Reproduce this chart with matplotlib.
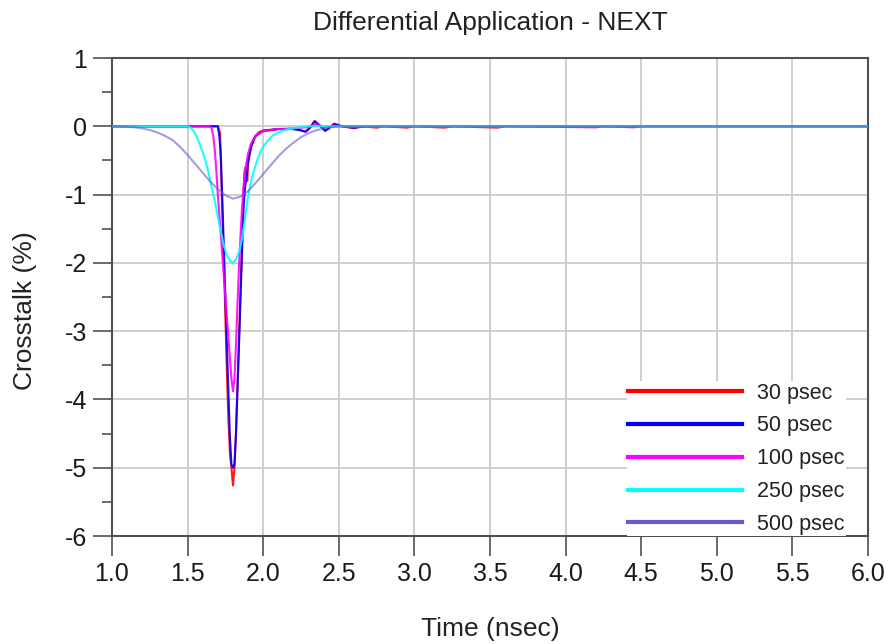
import matplotlib
matplotlib.use("Agg")
import matplotlib.pyplot as plt
from matplotlib.ticker import MultipleLocator, FormatStrFormatter

plt.rcParams['font.family'] = ['Liberation Sans', 'DejaVu Sans']

title = "Differential Application - NEXT"
xlabel = "Time (nsec)"
ylabel = "Crosstalk (%)"
labels = ["30 psec", "50 psec", "100 psec", "250 psec", "500 psec"]
colors = ["#ff0000", "#0000ff", "#ff00ff", "#00ffff", "#6a5acd"]

# 30 psec
t_30 = [1.0, 1.70, 1.715, 1.72, 1.73, 1.74, 1.75, 1.76, 1.77, 1.78, 1.79, 1.80, 1.81, 1.82,
        1.83, 1.84, 1.85, 1.86, 1.87, 1.875, 1.88, 1.885, 1.89, 1.895, 1.90, 1.92, 1.94,
        1.97, 2.0, 2.1, 2.2, 2.25, 2.28, 2.31, 2.34, 2.37, 2.41, 2.44, 2.47, 2.52, 2.6,
        2.65, 2.75, 2.8, 2.95, 3.0, 3.2, 3.25, 3.55, 3.6, 4.2, 4.25, 4.45, 4.5, 6.0]
v_30 = [0.0, 0.0, -0.1, -0.5, -1.3, -2.0, -2.8, -3.6, -4.3, -4.8, -5.0, -5.26, -5.0, -4.5,
        -3.8, -3.1, -2.4, -1.7, -1.0, -0.7, -0.62, -0.6, -0.75, -0.8, -0.55, -0.3, -0.17,
        -0.09, -0.06, -0.04, -0.04, -0.06, -0.08, -0.02, 0.08, 0.02, -0.07, -0.02, 0.04, 0.0, -0.03,
        0.0, -0.02, 0.0, -0.02, 0.0, -0.02, 0.0, -0.02, 0.0, -0.015, 0.0, -0.015, 0.0, 0.0]

# 50 psec
t_50 = [1.0, 1.70, 1.71, 1.72, 1.73, 1.74, 1.75, 1.76, 1.77, 1.78, 1.79, 1.80, 1.81, 1.82,
        1.83, 1.84, 1.85, 1.86, 1.87, 1.88, 1.89, 1.90, 1.92, 1.95, 2.0, 2.1, 2.2, 2.25,
        2.28, 2.31, 2.34, 2.37, 2.41, 2.44, 2.47, 2.52, 2.6, 2.7, 6.0]
v_50 = [0.0, 0.0, -0.15, -0.45, -1.1, -1.8, -2.5, -3.2, -3.9, -4.55, -4.95, -5.0, -4.95, -4.5,
        -3.85, -3.2, -2.5, -1.85, -1.2, -0.9, -0.74, -0.5, -0.3, -0.14, -0.07, -0.04, -0.04, -0.06,
        -0.08, -0.02, 0.07, 0.02, -0.06, -0.02, 0.03, 0.0, -0.02, 0.0, 0.0]

# 100 psec
t_100 = [1.0, 1.65, 1.66, 1.67, 1.68, 1.69, 1.70, 1.72, 1.74, 1.76, 1.78, 1.79, 1.80, 1.81,
         1.82, 1.83, 1.84, 1.85, 1.86, 1.87, 1.88, 1.90, 1.92, 1.95, 2.0, 2.1, 2.2, 2.3,
         2.35, 2.4, 2.5, 6.0]
v_100 = [0.0, 0.0, -0.04, -0.15, -0.35, -0.65, -1.0, -1.6, -2.2, -2.8, -3.4, -3.7, -3.88, -3.7,
         -3.2, -2.6, -2.05, -1.6, -1.2, -0.9, -0.65, -0.4, -0.25, -0.14, -0.07, -0.04, -0.03, -0.01,
         0.03, -0.01, 0.0, 0.0]

# 250 psec
t_250 = [1.0, 1.50, 1.52, 1.54, 1.56, 1.58, 1.60, 1.62, 1.64, 1.66, 1.68, 1.70, 1.72, 1.74,
         1.76, 1.78, 1.80, 1.82, 1.84, 1.86, 1.88, 1.90, 1.92, 1.94, 1.96, 1.98, 2.00, 2.03,
         2.06, 2.10, 2.15, 2.22, 2.30, 6.0]
v_250 = [0.0, 0.0, -0.02, -0.07, -0.15, -0.26, -0.38, -0.52, -0.70, -0.90, -1.10, -1.33, -1.55,
         -1.75, -1.89, -1.97, -2.0, -1.95, -1.84, -1.65, -1.35, -1.03, -0.80, -0.64, -0.50, -0.38,
         -0.30, -0.21, -0.14, -0.09, -0.05, -0.02, 0.0, 0.0]

# 500 psec
t_500 = [1.0, 1.05, 1.1, 1.15, 1.2, 1.25, 1.3, 1.35, 1.4, 1.45, 1.5, 1.55, 1.6, 1.65, 1.7,
         1.75, 1.8, 1.85, 1.9, 1.95, 2.0, 2.05, 2.1, 2.15, 2.2, 2.25, 2.3, 2.35, 2.4, 2.45,
         2.5, 6.0]
v_500 = [0.0, 0.0, -0.005, -0.015, -0.03, -0.055, -0.09, -0.14, -0.2, -0.3, -0.42, -0.55,
         -0.68, -0.81, -0.92, -1.01, -1.06, -1.03, -0.95, -0.83, -0.7, -0.57, -0.44, -0.33,
         -0.24, -0.16, -0.1, -0.06, -0.03, -0.01, 0.0, 0.0]

series = [(t_30, v_30), (t_50, v_50), (t_100, v_100), (t_250, v_250), (t_500, v_500)]

fig = plt.figure(figsize=(8.9, 6.44), dpi=100)
ax = fig.add_axes([112/890, 1-536/644, 756/890, 478/644])

for i, ((t, v), lab, col) in enumerate(zip(series, labels, colors)):
    alpha = 0.6 if i == 4 else 0.9
    ax.plot(t, v, color=col, lw=1.5, label=lab, alpha=alpha, zorder=3+i)

ax.set_xlim(1.0, 6.0)
ax.set_ylim(-6, 1)
ax.xaxis.set_major_locator(MultipleLocator(0.5))
ax.yaxis.set_major_locator(MultipleLocator(1))
ax.yaxis.set_minor_locator(MultipleLocator(0.5))
ax.xaxis.set_major_formatter(FormatStrFormatter('%.1f'))
ax.yaxis.set_major_formatter(FormatStrFormatter('%d'))

ax.grid(True, which='major', color='#cccccc', lw=1.3, zorder=0)
ax.set_axisbelow(True)
for s in ax.spines.values():
    s.set_color('#505050')
    s.set_linewidth(1.5)

ax.tick_params(axis='x', which='major', length=14.5, width=1.2, color='#505050',
               labelsize=18, pad=4, labelcolor='#1a1a1a')
ax.tick_params(axis='y', which='major', length=14, width=1.2, color='#505050',
               labelsize=18, pad=4, labelcolor='#1a1a1a')
ax.tick_params(axis='y', which='minor', length=7, width=1.2, color='#505050')

ax.set_title(title, fontsize=19, pad=20, color='#222222')
fig.text(490/890, 1-629/644, xlabel, ha='center', va='center', fontsize=19, color='#222222')
fig.text(25/890, 1-311/644, ylabel, ha='center', va='center', rotation=90, fontsize=19,
         color='#222222')

leg = ax.legend(loc='lower right', bbox_to_anchor=(0.971, 0.0), borderaxespad=0,
                frameon=True, facecolor='white', edgecolor='none', framealpha=1,
                fancybox=False, fontsize=15.5, handlelength=5.3, handletextpad=0.7,
                labelspacing=0.55, borderpad=0.05)
leg.set_zorder(20)
for ln, col in zip(leg.get_lines(), colors):
    ln.set_linewidth(3)
    ln.set_alpha(1)
    ln.set_color(col)
for txt in leg.get_texts():
    txt.set_color('#222222')

fig.savefig("out.png", dpi=100)
